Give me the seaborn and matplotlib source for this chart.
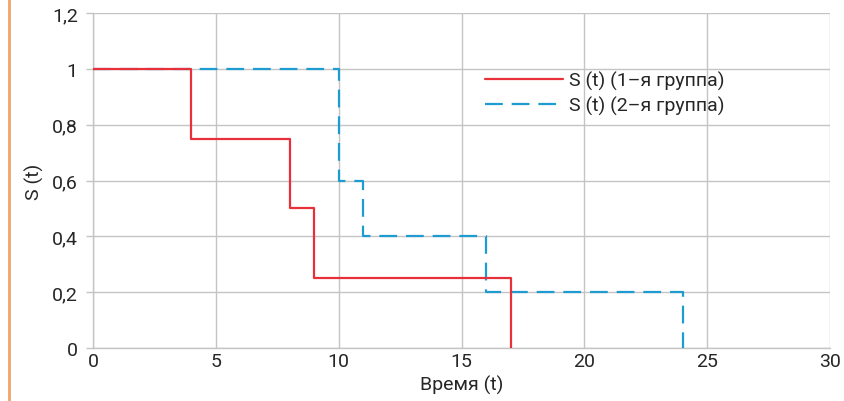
import matplotlib
matplotlib.use("Agg")
import matplotlib.pyplot as plt
import seaborn as sns
import pandas as pd
from matplotlib.lines import Line2D

# data
t_group1 = [0, 4, 8, 9, 17]
s_group1 = [1.0, 0.75, 0.5, 0.25, 0.0]
t_group2 = [0, 10, 11, 16, 24]
s_group2 = [1.0, 0.6, 0.4, 0.2, 0.0]
labels = ["S (t) (1\u2013я группа)", "S (t) (2\u2013я группа)"]
x_ticks = [0, 5, 10, 15, 20, 25, 30]
y_ticks = [0, 0.2, 0.4, 0.6, 0.8, 1.0, 1.2]
y_tick_labels = ["0", "0,2", "0,4", "0,6", "0,8", "1", "1,2"]

sns.set_theme(style="white")
plt.rcParams["font.family"] = ["Roboto", "DejaVu Sans"]

df = pd.concat([
    pd.DataFrame({"t": t_group1, "S": s_group1, "g": labels[0]}),
    pd.DataFrame({"t": t_group2, "S": s_group2, "g": labels[1]}),
])

fig = plt.figure(figsize=(8.44, 4.02), dpi=100)
ax = fig.add_axes([93 / 844, 1 - 349 / 402, (830 - 93) / 844, (349 - 14) / 402])

red = "#e8303a"
blue = "#1e9bd0"
sns.lineplot(data=df[df.g == labels[0]], x="t", y="S", ax=ax, color=red,
             linewidth=1.6, drawstyle="steps-post", label=labels[0], zorder=4)
sns.lineplot(data=df[df.g == labels[1]], x="t", y="S", ax=ax, color=blue,
             linewidth=1.6, drawstyle="steps-post", label=labels[1],
             linestyle=(0, (8, 4)), zorder=3)

ax.set_xlim(0, 30)
ax.set_ylim(0, 1.2)
ax.set_xticks(x_ticks)
ax.set_xticklabels([str(v) for v in x_ticks])
ax.set_yticks(y_ticks)
ax.set_yticklabels(y_tick_labels)
ax.grid(True, color="#c4c4c4", linewidth=1.0)
ax.set_axisbelow(True)
for side in ["top", "right"]:
    ax.spines[side].set_visible(False)
for side in ["left", "bottom"]:
    ax.spines[side].set_color("#c4c4c4")
    ax.spines[side].set_linewidth(1.0)
ax.tick_params(axis="y", length=5, color="#c4c4c4", width=1.0, labelsize=14, pad=6, left=True)
ax.tick_params(axis="x", length=0, labelsize=14, pad=3, bottom=True)
ax.set_xlabel("Время (t)", fontsize=14, labelpad=3)
ax.set_ylabel("S (t)", fontsize=14, labelpad=6)

leg = ax.legend(loc="upper left", bbox_to_anchor=(0.522, 0.85), frameon=False,
                fontsize=14, handlelength=4.0, handletextpad=0.3, labelspacing=0.3,
                borderaxespad=0)

fig.add_artist(Line2D([9 / 844, 9 / 844], [0, 1], color="#f0a468", linewidth=2.0,
                      transform=fig.transFigure))

fig.savefig("out.png", dpi=100)
